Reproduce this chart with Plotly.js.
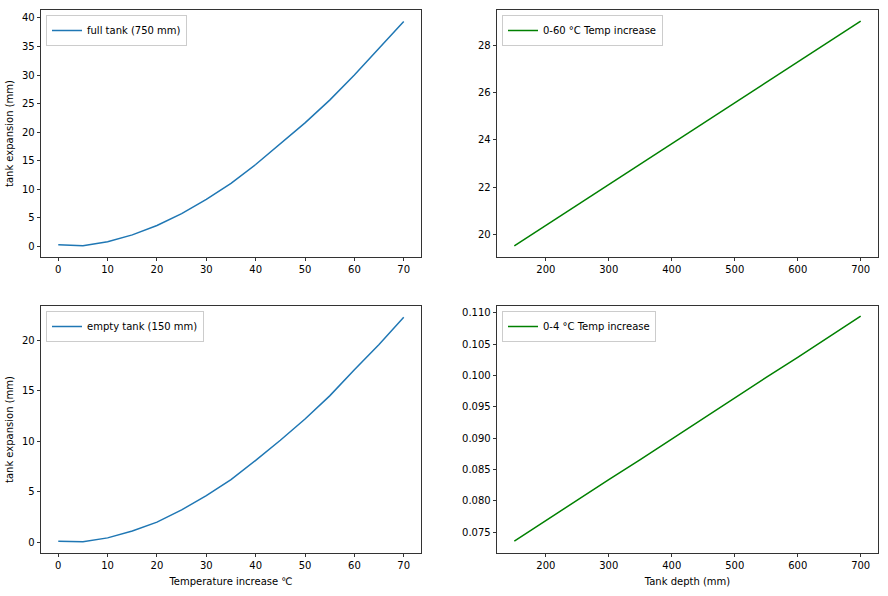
<!DOCTYPE html>
<html>
<head>
<meta charset="utf-8">
<script src="https://cdn.plot.ly/plotly-3.0.1.min.js"></script>
<style>
  body { margin: 0; background: #fff; }
  #myPlot { width: 888px; height: 596px; }
</style>
</head>
<body>
<div id="myPlot"></div>
<script>
// temperature increase (deg C) and tank expansion (mm)
let temps = [0, 5, 10, 15, 20, 25, 30, 35, 40, 45, 50, 55, 60, 65, 70];
let fullTank = [0.23, 0.06, 0.76, 1.96, 3.6, 5.7, 8.2, 11.0, 14.3, 17.9, 21.6, 25.6, 30.0, 34.7, 39.4];
let emptyTank = [0.08, 0.03, 0.42, 1.1, 1.98, 3.2, 4.6, 6.2, 8.1, 10.1, 12.2, 14.5, 17.1, 19.6, 22.3];

// tank depth (mm)
let depths = [150, 200, 250, 300, 350, 400, 450, 500, 550, 600, 650, 700];
let rise60 = [19.52, 20.38, 21.25, 22.11, 22.97, 23.83, 24.70, 25.56, 26.42, 27.29, 28.15, 29.01];
let rise4 = [0.0736, 0.0769, 0.0801, 0.0834, 0.0866, 0.0899, 0.0932, 0.0964, 0.0997, 0.1029, 0.1062, 0.1095];

let blue = "#1f77b4";
let green = "#008000";

let data1 = [
  { x: temps, y: fullTank, type: "scatter", mode: "lines", name: "full tank (750 mm)",
    line: { color: blue, width: 1.5 }, xaxis: "x", yaxis: "y", legend: "legend", showlegend: true },
  { x: depths, y: rise60, type: "scatter", mode: "lines", name: "0-60 °C Temp increase",
    line: { color: green, width: 1.5 }, xaxis: "x2", yaxis: "y2", legend: "legend2", showlegend: true },
  { x: temps, y: emptyTank, type: "scatter", mode: "lines", name: "empty tank (150 mm)",
    line: { color: blue, width: 1.5 }, xaxis: "x3", yaxis: "y3", legend: "legend3", showlegend: true },
  { x: depths, y: rise4, type: "scatter", mode: "lines", name: "0-4 °C Temp increase",
    line: { color: green, width: 1.5 }, xaxis: "x4", yaxis: "y4", legend: "legend4", showlegend: true }
];

// frame positions in px, turned into paper fractions
let W = 888, H = 596;
let colL = [41 / W, 421 / W], colR = [497 / W, 878 / W];
let rowT = [1 - 257 / H, 1 - 10 / H], rowB = [1 - 553 / H, 1 - 306 / H];

function ax(extra) {
  return Object.assign({
    showgrid: false, zeroline: false, showline: true, mirror: true,
    linecolor: "#000", linewidth: 0.8, ticks: "outside", ticklen: 3.5,
    tickcolor: "#000", tickwidth: 0.8, tickfont: { size: 10, color: "#000" },
    automargin: false
  }, extra);
}

function leg(px, py) {
  return {
    visible: true,
    x: px / W, y: 1 - py / H, xanchor: "left", yanchor: "top",
    bgcolor: "rgba(255,255,255,0.8)", bordercolor: "#cccccc", borderwidth: 1,
    font: { size: 10, color: "#000" }
  };
}

let ytitle = { text: "tank expansion (mm)", font: { size: 10, color: "#000" }, standoff: 6 };

let layout = {
  width: W, height: H,
  showlegend: true,
  margin: { l: 0, r: 0, t: 0, b: 0 },
  paper_bgcolor: "#fff", plot_bgcolor: "#fff",
  font: { family: "DejaVu Sans", size: 10, color: "#000" },
  xaxis: ax({ domain: colL, anchor: "y", range: [-3.5, 73.5], dtick: 10 }),
  yaxis: ax({ domain: rowT, anchor: "x", range: [-1.92, 41.4], dtick: 5, title: ytitle }),
  xaxis2: ax({ domain: colR, anchor: "y2", range: [122.5, 727.5], tick0: 0, dtick: 100 }),
  yaxis2: ax({ domain: rowT, anchor: "x2", range: [19.05, 29.48], dtick: 2 }),
  xaxis3: ax({ domain: colL, anchor: "y3", range: [-3.5, 73.5], dtick: 10,
    title: { text: "Temperature increase ℃", font: { size: 10, color: "#000" }, standoff: 7 } }),
  yaxis3: ax({ domain: rowB, anchor: "x3", range: [-1.08, 23.41], dtick: 5, title: ytitle }),
  xaxis4: ax({ domain: colR, anchor: "y4", range: [122.5, 727.5], tick0: 0, dtick: 100,
    title: { text: "Tank depth (mm)", font: { size: 10, color: "#000" }, standoff: 7 } }),
  yaxis4: ax({ domain: rowB, anchor: "x4", range: [0.0717, 0.1111], tick0: 0, dtick: 0.005, tickformat: ".3f" }),
  legend: leg(46, 15),
  legend2: leg(502, 15),
  legend3: leg(46, 311),
  legend4: leg(502, 311)
};

// Display using Plotly
Plotly.newPlot("myPlot", data1, layout, { displayModeBar: false, staticPlot: true });
</script>
</body>
</html>
